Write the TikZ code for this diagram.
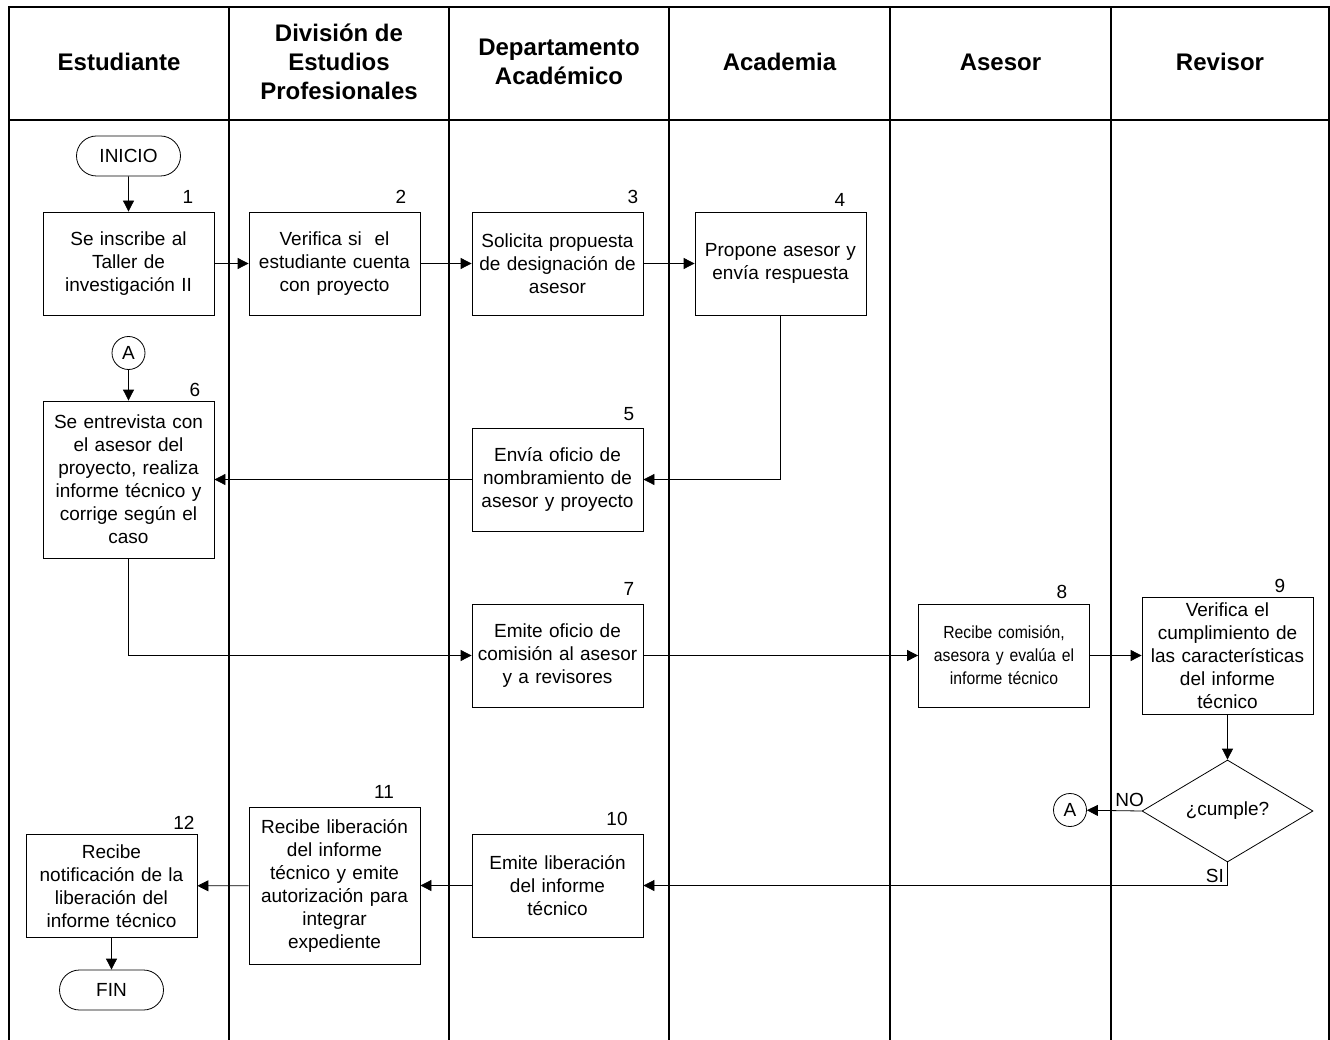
\documentclass[tikz,border=0pt]{standalone}
\usepackage{fontspec}
\setmainfont{Liberation Sans}
\newfontfamily\narrowfont[FakeStretch=0.9]{Liberation Sans}
\usetikzlibrary{arrows.meta,shapes.misc,shapes.geometric}

\begin{document}
\begin{tikzpicture}[x=1pt, y=-1pt,
    font=\fontsize{19}{23}\selectfont,
    lane/.style={line width=1.2pt},
    head/.style={font=\bfseries\fontsize{24}{29}\selectfont, align=center},
    proc/.style={draw, line width=0.8pt, align=center, text width=163pt, inner xsep=4pt, inner ysep=0pt, minimum height=103pt},
    term/.style={draw, line width=0.8pt, rounded rectangle, minimum width=104pt, minimum height=40pt, inner sep=0pt},
    link/.style={draw, line width=0.8pt, circle, minimum size=33pt, inner sep=0pt},
    test/.style={draw, line width=0.8pt, diamond, minimum width=171pt, minimum height=102pt, inner sep=0pt},
    arr/.style={-{Triangle[length=11pt, width=11pt]}, line width=0.8pt}]

    \useasboundingbox (0,0) rectangle (1330,1040);

    % swimlanes
    \draw[lane] (9,1040) -- (9,7) -- (1329,7) -- (1329,1040);
    \draw[lane] (9,120) -- (1329,120);
    \foreach \x in {229,449,669,890,1111}
        \draw[lane] (\x,7) -- (\x,1040);

    \node[head] (hest) at (119,62) {Estudiante};
    \node[head] (hdiv) at (339,62) {División de\\Estudios\\Profesionales};
    \node[head] (hdep) at (559,62) {Departamento\\Académico};
    \node[head] (hacad) at (779.5,62) {Academia};
    \node[head] (hases) at (1000.5,62) {Asesor};
    \node[head] (hrev) at (1220,62) {Revisor};

    % steps
    \node[term] (inicio) at (128.5,156) {INICIO};
    \node[proc] (b1) at (128.5,263.5) {Se inscribe al\\Taller de\\investigación II};
    \node[proc] (b2) at (334.5,263.5) {Verifica si\ \ el\\estudiante cuenta\\con proyecto};
    \node[proc] (b3) at (557.5,263.5) {Solicita propuesta\\de designación de\\asesor};
    \node[proc] (b4) at (780.5,263.5) {Propone asesor y\\envía respuesta};
    \node[link] (ca) at (128.5,353) {A};
    \node[proc, minimum height=157pt] (b6) at (128.5,479.5) {Se entrevista con\\el asesor del\\proyecto, realiza\\informe técnico y\\corrige según el\\caso};
    \node[proc] (b5) at (557.5,479.5) {Envía oficio de\\nombramiento de\\asesor y proyecto};
    \node[proc] (b7) at (557.5,655.5) {Emite oficio de\\comisión al asesor\\y a revisores};
    \node[proc, font=\narrowfont\fontsize{17.5}{23}\selectfont] (b8) at (1004,655.5) {Recibe comisión,\\asesora y evalúa el\\informe técnico};
    \node[proc, minimum height=117pt] (b9) at (1227.5,655.5) {Verifica el\\cumplimiento de\\las características\\del informe\\técnico};
    \node[test] (cumple) at (1227.5,811) {¿cumple?};
    \node[link] (cb) at (1070,810) {A};
    \node[proc] (b10) at (557.5,885.5) {Emite liberación\\del informe\\técnico};
    \node[proc, minimum height=157pt] (b11) at (334.5,885.5) {Recibe liberación\\del informe\\técnico y emite\\autorización para\\integrar\\expediente};
    \node[proc] (b12) at (111.5,886) {Recibe\\notificación de la\\liberación del\\informe técnico};
    \node[term] (fin) at (111.5,990) {FIN};

    % step numbers
    \node (n1) at (188,197) {1};
    \node (n2) at (401,197) {2};
    \node (n3) at (633,197) {3};
    \node (n4) at (840,200) {4};
    \node (n5) at (629,414) {5};
    \node (n6) at (195,390) {6};
    \node (n7) at (629,589) {7};
    \node (n8) at (1062,592) {8};
    \node (n9) at (1280,586) {9};
    \node (n10) at (617,819) {10};
    \node (n11) at (384,792) {11};
    \node (n12) at (184,823) {12};

    % flow
    \draw[arr] (inicio) -- (b1);
    \draw[arr] (b1) -- (b2);
    \draw[arr] (b2) -- (b3);
    \draw[arr] (b3) -- (b4);
    \draw[arr] (b4.south) |- (b5.east);
    \draw[arr] (b5) -- (b6);
    \draw[arr] (ca) -- (b6);
    \draw[arr] (b6.south) |- (b7.west);
    \draw[arr] (b7) -- (b8);
    \draw[arr] (b8) -- (b9);
    \draw[arr] (b9) -- (cumple);
    \draw[arr] (cumple.west) -- node[above, pos=0.22] {NO} (cb);
    \draw[arr] (cumple.south) |- node[left, pos=0.3] {SI} (b10.east);
    \draw[arr] (b10) -- (b11);
    \draw[arr] (b11) -- (b12);
    \draw[arr] (b12) -- (fin);

\end{tikzpicture}
\end{document}
